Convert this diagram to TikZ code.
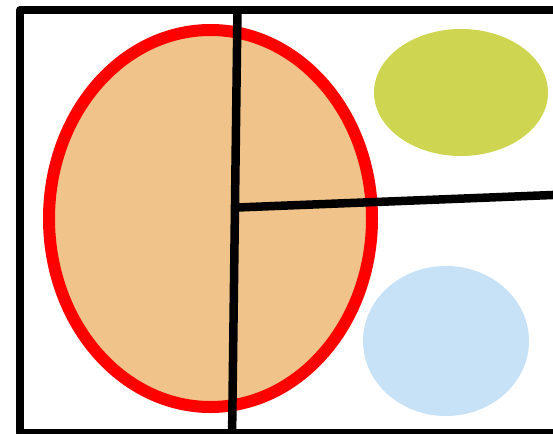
\documentclass[tikz,border=0pt]{standalone}
\definecolor{ovalfill}{HTML}{EFC38A}
\definecolor{ovalred}{HTML}{FF0000}
\definecolor{greenoval}{HTML}{CED651}
\definecolor{blueoval}{HTML}{C7E2F7}
\tikzset{
  frameline/.style={draw=black, line width=8pt, line join=round},
  divline/.style={draw=black, line width=8.5pt},
  bigoval/.style={fill=ovalfill, draw=ovalred, line width=12pt},
}
\begin{document}
\begin{tikzpicture}[x=1pt,y=-1pt]
\useasboundingbox (0,0) rectangle (553,433);
\clip (0,0) rectangle (553,433);
% frame
\draw[frameline] (575,10) -- (20,10) -- (20,433) -- (575,433);
% ellipses
\path[bigoval] (210.5,218.5) ellipse [x radius=161.5, y radius=188.5];
\fill[greenoval] (461,92.5) ellipse [x radius=87, y radius=63.5];
\fill[blueoval] (446,341) ellipse [x radius=83, y radius=75];
% dividing lines
\coordinate (vtop) at (237.5,8);
\coordinate (vbot) at (232,440);
\coordinate (hstart) at (237,207.5);
\coordinate (hend) at (560,194.7);
\draw[divline] (vtop) -- (vbot);
\draw[divline] (hstart) -- (hend);
\end{tikzpicture}
\end{document}
